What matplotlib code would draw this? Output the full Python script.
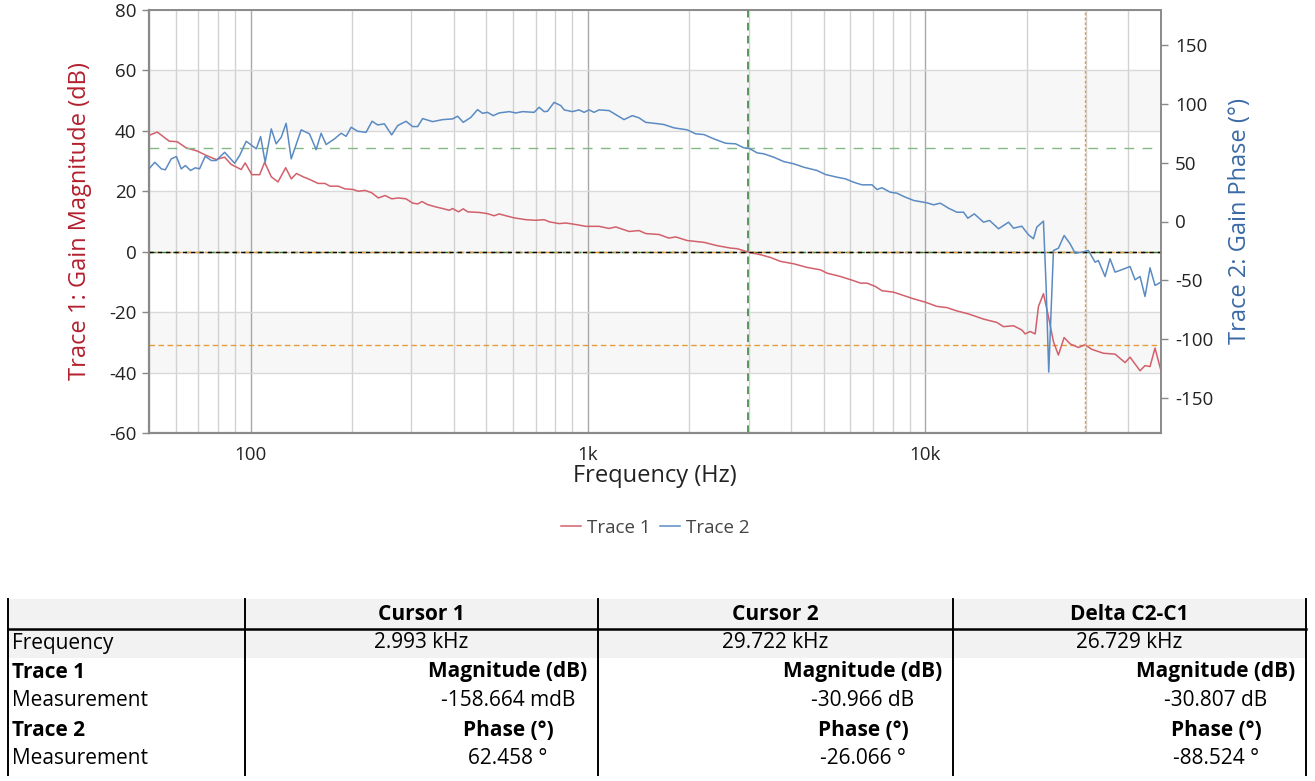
import matplotlib
matplotlib.use('Agg')
import matplotlib.pyplot as plt
from matplotlib.ticker import FixedLocator, FixedFormatter, NullFormatter
from matplotlib.lines import Line2D
from matplotlib.patches import Rectangle
from matplotlib.transforms import blended_transform_factory

plt.rcParams['font.family'] = ['Open Sans', 'DejaVu Sans']
plt.rcParams['axes.unicode_minus'] = False

# Trace 1: gain magnitude (dB)
red_freq = [50, 52.9, 57.4, 60.6, 64.4, 69.6, 73.8, 79.1, 83.7, 87.6,
            93.8, 96.4, 100.9, 106.4, 110.1, 115.2, 120.6, 127.1, 132.1, 136.8,
            143.1, 149.8, 158.6, 166.1, 171.9, 181.9, 190.5, 201.6, 208.6, 218.4,
            228.7, 239.3, 250.5, 262.3, 274.4, 289, 302.3, 312.8, 322.3, 334.9,
            354.6, 370.9, 388.3, 397.1, 413.6, 427.2, 440.0, 476.3, 504.1, 527.6,
            545.9, 571.5, 604.7, 654.9, 701.2, 741.9, 767.8, 821.9, 860.5, 920.9,
            985.7, 1079, 1156, 1210, 1325, 1418, 1485, 1625, 1739, 1821,
            1970, 2208, 2418, 2649, 2771, 3001, 3250, 3479, 3724, 4077,
            4464, 4891, 5117, 5606, 6138, 6426, 6722, 7116, 7443, 8061,
            8632, 9240, 10007, 10830, 11593, 12414, 13445, 14890, 16301, 17064,
            18270, 19333, 19786, 20472, 21181, 21664, 22415, 23190, 23996, 24823,
            25809, 26889, 28457, 29783, 31152, 33743, 36545, 39126, 40475, 43338,
            44838, 46396, 47993, 50000]
red_mag = [38.5, 39.6, 36.6, 36.4, 34.4, 33.3, 31.9, 30.5, 31.3, 28.9,
           27.2, 29.4, 25.5, 25.5, 29.6, 24.8, 23.1, 27.8, 24.1, 25.9,
           24.8, 23.9, 22.6, 22.6, 21.7, 21.7, 20.8, 20.6, 20.0, 20.3,
           19.5, 17.8, 18.6, 17.5, 17.8, 17.5, 16.1, 15.8, 16.6, 15.6,
           14.8, 14.3, 13.7, 14.3, 13.2, 14.2, 13.2, 13.0, 12.6, 11.9,
           12.5, 11.9, 11.2, 10.6, 10.4, 10.6, 9.9, 9.3, 9.5, 9.0,
           8.4, 8.4, 7.7, 8.2, 6.7, 7.0, 6.0, 5.7, 4.5, 4.9,
           3.7, 3.1, 2.0, 1.2, 1.0, -0.2, -1.0, -1.9, -3.2, -4.0,
           -5.2, -6.0, -7.1, -8.2, -9.6, -10.4, -10.4, -11.5, -12.9, -13.4,
           -14.5, -15.6, -16.7, -18.1, -18.5, -19.6, -20.6, -22.3, -23.4, -24.8,
           -24.5, -25.9, -27.2, -26.4, -27.2, -18.1, -13.9, -21.5, -29.8, -34.2,
           -28.4, -30.5, -31.7, -30.8, -32.3, -33.6, -33.9, -36.7, -34.9, -39.4,
           -37.7, -38.0, -31.9, -39.4]

# Trace 2: gain phase (deg)
blue_freq = [50, 52.0, 54.4, 55.9, 58.2, 60.3, 62.3, 64.1, 66.4, 68.6,
             70.6, 73.4, 76.5, 79.1, 83.8, 89.7, 92.8, 97.1, 104.0, 107.1,
             110.5, 115.2, 119.1, 123.3, 127.5, 132.0, 141.3, 149.5, 156.5, 161.9,
             167.5, 177.3, 185.6, 192.0, 198.7, 207.8, 220.0, 229.2, 238.1, 249.3,
             262.0, 273.0, 289.0, 302.4, 312.9, 323.7, 346.5, 370.9, 397.1, 411.0,
             427.2, 450.2, 470.9, 487.2, 504.1, 524.1, 545.9, 584.5, 611.7, 640.0,
             692.9, 717.0, 741.9, 758.9, 794.2, 831.5, 850.4, 900.0, 941.9, 974.5,
             1008, 1043, 1079, 1156, 1223, 1280, 1354, 1418, 1484, 1625,
             1681, 1800, 1970, 2087, 2208, 2364, 2560, 2741, 2900, 3001,
             3176, 3324, 3558, 3808, 4077, 4365, 4779, 5061, 5479, 5800,
             6139, 6494, 6954, 7194, 7443, 7882, 8247, 8634, 9242, 10116,
             10590, 11085, 11728, 12414, 12993, 13379, 13977, 14893, 15510, 16496,
             17660, 18272, 19334, 20236, 20937, 21415, 22412, 22829, 23237, 23995,
             24827, 25813, 26886, 27817, 29101, 30458, 31886, 32607, 34128, 35311,
             36535, 38220, 40488, 41879, 43331, 44832, 46388, 48000, 50000]
blue_phase = [44.8, 50.4, 44.8, 44.0, 53.3, 55.3, 44.8, 47.6, 43.4, 45.7,
              44.8, 55.5, 51.9, 51.9, 58.9, 49.6, 56.1, 68.3, 61.8, 72.3,
              50.4, 78.8, 66.1, 71.7, 83.6, 53.3, 78.0, 74.6, 61.2, 75.1,
              65.5, 70.3, 75.1, 72.5, 80.2, 76.8, 75.9, 85.3, 82.2, 83.1,
              73.7, 81.6, 85.3, 80.8, 80.8, 87.6, 85.0, 86.7, 87.3, 89.6,
              84.4, 88.7, 95.2, 92.1, 92.9, 90.1, 92.4, 93.5, 92.4, 93.5,
              92.9, 97.2, 93.5, 93.8, 101.4, 98.6, 95.0, 93.5, 95.0, 92.9,
              95.0, 92.9, 95.0, 94.4, 90.1, 86.7, 90.1, 88.2, 84.4, 83.1,
              82.5, 79.7, 78.0, 74.6, 74.0, 70.3, 66.6, 66.1, 62.7, 62.4,
              58.4, 57.6, 54.7, 51.0, 49.1, 46.2, 43.4, 40.0, 37.7, 36.3,
              33.4, 31.2, 31.2, 27.2, 28.7, 24.9, 24.1, 21.3, 17.9, 15.9,
              14.2, 15.6, 11.3, 7.9, 7.9, 2.8, 6.5, -0.6, 0.9, -6.2,
              -0.6, -5.7, -4.0, -11.3, -14.7, -4.8, 0.3, -55.8, -128.1, -24.7,
              -22.7, -11.9, -19.0, -26.9, -26.1, -24.7, -34.6, -33.2, -46.8, -31.7,
              -43.1, -41.1, -38.3, -49.6, -46.8, -63.8, -39.4, -54.4, -51.6]

cursor_freq = [2993, 29722]
cursor_mag = [-0.158664, -30.966]
cursor_phase = [62.458, -26.066]

table_header = ['', 'Cursor 1', 'Cursor 2', 'Delta C2-C1']
freq_cells = ['2.993 kHz', '29.722 kHz', '26.729 kHz']
mag_cells = ['-158.664 mdB', '-30.966 dB', '-30.807 dB']
phase_cells = ['62.458 °', '-26.066 °', '-88.524 °']

W, H = 1315, 781
RED = '#d2606b'
BLUE = '#5b8bc2'
GREEN = '#2e7d32'
LGREEN = '#86b886'
ORANGE = '#e89a3c'
GRID = '#d9d9d9'

fig = plt.figure(figsize=(W / 100, H / 100), dpi=100)
ax = fig.add_axes([149 / W, 1 - 433 / H, (1161 - 149) / W, (433 - 10) / H])
ax2 = ax.twinx()

ax.set_xscale('log')
ax.set_xlim(50, 50000)
ax.set_ylim(-60, 80)
ax2.set_ylim(-180, 180)

# shaded bands
for lo in [40, 0, -40]:
    ax.axhspan(lo, lo + 20, color='#f7f7f7', zorder=0, lw=0)

ax.xaxis.set_major_locator(FixedLocator([100, 1000, 10000]))
ax.xaxis.set_major_formatter(FixedFormatter(['100', '1k', '10k']))
minors = [m * 10 ** e for e in range(1, 5) for m in range(2, 10)]
ax.xaxis.set_minor_locator(FixedLocator([v for v in minors if 50 <= v <= 50000]))
ax.xaxis.set_minor_formatter(NullFormatter())
ax.set_yticks(range(-60, 81, 20))
ax2.set_yticks([-150, -100, -50, 0, 50, 100, 150])

ax.set_axisbelow(True)
ax.grid(which='major', axis='x', color='#a8a8a8', lw=1)
ax.grid(which='minor', axis='x', color='#d2d2d2', lw=1)
ax.grid(which='major', axis='y', color=GRID, lw=1)

ax.tick_params(axis='x', which='both', length=0, pad=9, labelsize=13.5, colors='#222222')
ax.tick_params(axis='y', length=5, width=1, pad=4, labelsize=13.5, color='#888888', labelcolor='#222222')
ax2.tick_params(axis='y', length=5, width=1, pad=5, labelsize=13.5, color='#888888', labelcolor='#222222')

for a in (ax, ax2):
    for s in a.spines.values():
        s.set_color('#8a8a8a')
        s.set_linewidth(1.2)
ax.spines['bottom'].set_linewidth(1.6)
ax.spines['left'].set_linewidth(1.6)

# traces
ax.plot(red_freq, red_mag, color=RED, lw=1.1, zorder=3)
ax2.plot(blue_freq, blue_phase, color=BLUE, lw=1.1, zorder=3)

# cursors
ax.axvline(cursor_freq[0], color=GREEN, lw=1.1, ls=(0, (5, 3.5)), zorder=4)
ax.axvline(cursor_freq[1], color=ORANGE, lw=1.0, ls=(0, (2, 1.5)), zorder=4)
ax.axhline(cursor_mag[1], color=ORANGE, lw=1.0, ls=(0, (4, 2.5)), zorder=2)
ax.axhline(cursor_mag[0], color=GREEN, lw=1.0, ls=(0, (5, 3.5)), zorder=2)
ax2.axhline(cursor_phase[0], color=LGREEN, lw=1.0, ls=(0, (7, 6)), zorder=2)
ax2.axhline(cursor_phase[1], color=ORANGE, lw=1.0, ls=(2, (4, 3)), zorder=1)
# 0 dB reference drawn on the top axes so it stays above the phase cursor
zero_tr = blended_transform_factory(ax2.transAxes, ax.transData)
ax2.plot([0, 1], [0, 0], transform=zero_tr, color='black', lw=1.0, ls=(0, (3, 3)), zorder=2)

ax.set_xlabel('Frequency (Hz)', fontsize=17, color='#222222')
ax.xaxis.set_label_coords(0.5, -0.073)
ax.set_ylabel('Trace 1: Gain Magnitude (dB)', fontsize=17, color='#b3202d')
ax.yaxis.set_label_coords(-0.0563, 0.5)
ax2.set_ylabel('Trace 2: Gain Phase (°)', fontsize=17, color='#3a6aa5')
ax2.yaxis.set_label_coords(1.066, 0.5)

handles = [Line2D([], [], color=RED, lw=1.1), Line2D([], [], color=BLUE, lw=1.1)]
fig.legend(handles, ['Trace 1', 'Trace 2'], loc='center', bbox_to_anchor=(655 / W, 1 - 528 / H),
           ncol=2, frameon=False, fontsize=13.5, handlelength=1.1, handletextpad=0.3,
           columnspacing=0.5, labelcolor='#444444')

# cursor table
tab = fig.add_axes([0, 0, 1, 1])
tab.set_xlim(0, W)
tab.set_ylim(H, 0)
tab.axis('off')

col_edges = [8, 245, 598, 953, 1306]
row_y = [614, 643, 672, 701, 730, 759]
tab.add_patch(Rectangle((8, 599), 1298, 59, color='#f2f2f2', lw=0))
tab.plot([8, 1306], [629, 629], color='black', lw=1.8)
for x in col_edges:
    tab.plot([x, x], [599, 775], color='black', lw=1.4)

tf = 15
for i in range(1, 4):
    cx = (col_edges[i] + col_edges[i + 1]) / 2
    rx = col_edges[i + 1] - 90
    tab.text(cx, row_y[0], table_header[i], ha='center', va='center', fontsize=tf, fontweight='bold')
    tab.text(cx, row_y[1], freq_cells[i - 1], ha='center', va='center', fontsize=tf)
    tab.text(rx, row_y[2], 'Magnitude (dB)', ha='center', va='center', fontsize=tf, fontweight='bold')
    tab.text(rx, row_y[3], mag_cells[i - 1], ha='center', va='center', fontsize=tf)
    tab.text(rx, row_y[4], 'Phase (°)', ha='center', va='center', fontsize=tf, fontweight='bold')
    tab.text(rx, row_y[5], phase_cells[i - 1], ha='center', va='center', fontsize=tf)

row_labels = ['Frequency', 'Trace 1', 'Measurement', 'Trace 2', 'Measurement']
row_bold = [False, True, False, True, False]
for lab, b, y in zip(row_labels, row_bold, row_y[1:]):
    tab.text(12, y, lab, ha='left', va='center', fontsize=tf, fontweight='bold' if b else 'normal')

fig.savefig('out.png', dpi=100)
